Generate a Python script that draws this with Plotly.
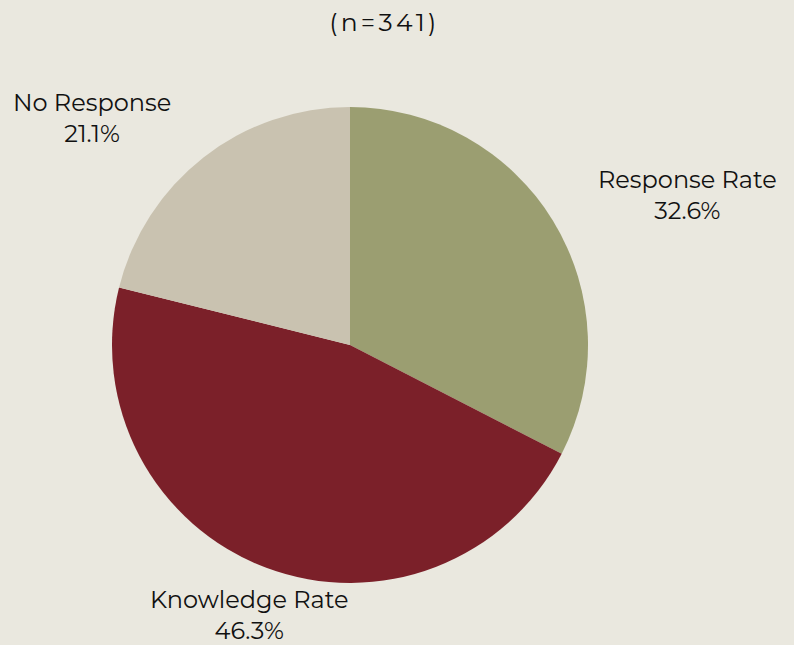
import math
import plotly.graph_objects as go

labels = ["Response Rate", "Knowledge Rate", "No Response"]
values = [111, 158, 72]
colors = ["#9B9E71", "#7B2029", "#C9C2B0"]
title_text = "(\u2009n\u2009=\u20093\u20094\u20091\u2009)"

fig = go.Figure(go.Pie(
    labels=labels,
    values=values,
    sort=False,
    direction="clockwise",
    rotation=0,
    marker=dict(colors=colors, line=dict(width=0)),
    textinfo="none",
    showlegend=False,
    hoverinfo="label+percent",
    domain=dict(x=[0, 1], y=[0, 1]),
))

# label annotations placed along each slice's mid-angle, outside the pie
total = sum(values)
cum = 0.0
label_dist = 0.605  # in paper units (pie radius = 0.5)
for lab, val in zip(labels, values):
    frac = val / total
    mid = cum + frac / 2
    cum += frac
    theta = math.radians(90 - mid * 360)
    cx, cy = math.cos(theta), math.sin(theta)
    if cx > 0.4:
        xa = "left"
    elif cx < -0.4:
        xa = "right"
    else:
        xa = "center"
    fig.add_annotation(
        x=0.5 + label_dist * cx,
        y=0.5 + label_dist * cy,
        xref="paper", yref="paper",
        text=f"{lab}<br>{frac * 100:.1f}%",
        showarrow=False,
        xanchor=xa, yanchor="middle", align="center",
        font=dict(size=24, color="#111111"),
    )

fig.update_layout(
    width=794,
    height=645,
    paper_bgcolor="#EAE8DF",
    plot_bgcolor="#EAE8DF",
    font=dict(family="Montserrat, Open Sans, sans-serif", color="#111111", size=24),
    title=dict(text=title_text, x=0.482, xanchor="center", y=0.966, yanchor="middle",
               font=dict(size=25, color="#111111")),
    margin=dict(l=112, r=206, t=107, b=62),
)

fig.write_html(
    "out.html",
    config={"displayModeBar": False},
    post_script="document.body.style.margin='0';document.body.style.background='#EAE8DF';",
)
